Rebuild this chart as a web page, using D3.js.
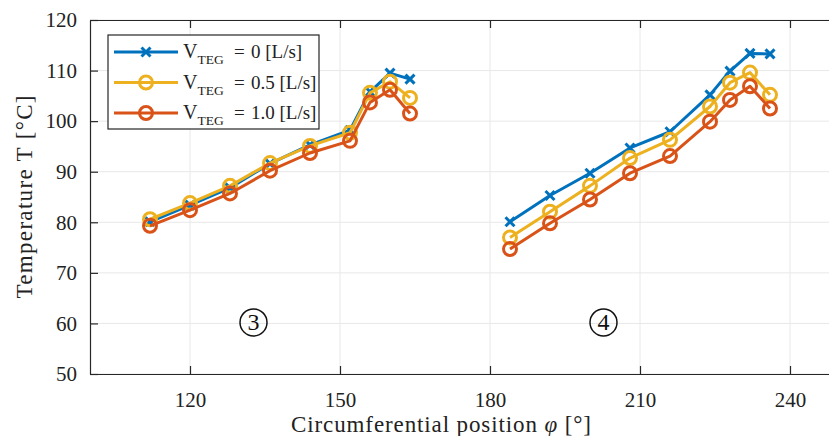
<!DOCTYPE html>
<html>
<head>
<meta charset="utf-8">
<script src="https://cdn.jsdelivr.net/npm/d3@7"></script>
<style>
  body { margin: 0; background: #fff; }
  svg { display: block; font-family: "Liberation Serif", "DejaVu Serif", serif; }
</style>
</head>
<body>
<svg id="chart" width="829" height="436"></svg>
<script>
// circumferential positions, two sensor groups
const phiGroup3 = [112, 120, 128, 136, 144, 152, 156, 160, 164];
const phiGroup4 = [184, 192, 200, 208, 216, 224, 228, 232, 236];

// temperatures for each flow rate (group 3 then group 4)
const temp00 = [80.1, 83.4, 86.8, 91.6, 95.3, 98.2, 105.8, 109.5, 108.3,
                80.1, 85.3, 89.7, 94.7, 97.9, 105.2, 109.9, 113.4, 113.3];
const temp05 = [80.6, 83.8, 87.2, 91.7, 95.1, 97.7, 105.6, 107.8, 104.6,
                77.0, 82.1, 87.2, 92.7, 96.3, 102.9, 107.6, 109.6, 105.2];
const temp10 = [79.3, 82.4, 85.7, 90.2, 93.7, 96.1, 103.7, 106.2, 101.5,
                74.7, 79.8, 84.5, 89.7, 93.1, 99.9, 104.2, 106.9, 102.5];

const xTicks = [120, 150, 180, 210, 240];
const yTicks = [50, 60, 70, 80, 90, 100, 110, 120];
const flowLabels = ["0", "0.5", "1.0"];
const groupLabels = ["3", "4"];
const groupLabelPos = [[132.5, 60], [202.5, 60]];

const colors = ["#0072BD", "#EDB120", "#D95319"];
const markers = ["cross", "circle", "circle"];

const svg = d3.select("#chart");
const mLeft = 90, mRight = 830, mTop = 20, mBottom = 374;

const x = d3.scaleLinear().domain([100, 248]).range([mLeft, mRight]);
const y = d3.scaleLinear().domain([50, 120]).range([mBottom, mTop]);

// grid
const grid = svg.append("g").attr("stroke", "#e8e8e8").attr("stroke-width", 1);
xTicks.forEach(t => {
  grid.append("line").attr("x1", x(t)).attr("x2", x(t)).attr("y1", mTop).attr("y2", mBottom);
});
yTicks.forEach(t => {
  grid.append("line").attr("x1", mLeft).attr("x2", mRight).attr("y1", y(t)).attr("y2", y(t));
});

// axes
const axisColor = "#262626";
const xAxis = svg.append("g").attr("transform", `translate(0,${mBottom})`)
  .call(d3.axisBottom(x).tickValues(xTicks).tickSizeInner(-8).tickSizeOuter(0).tickPadding(18));
const xTop = svg.append("g").attr("transform", `translate(0,${mTop})`)
  .call(d3.axisTop(x).tickValues(xTicks).tickSizeInner(-8).tickSizeOuter(0).tickFormat(""));
const yAxis = svg.append("g").attr("transform", `translate(${mLeft},0)`)
  .call(d3.axisLeft(y).tickValues(yTicks).tickSizeInner(-8).tickSizeOuter(0).tickPadding(13));

[xAxis, xTop, yAxis].forEach(a => {
  a.select(".domain").attr("stroke", axisColor).attr("stroke-width", 1.2);
  a.selectAll(".tick line").attr("stroke", axisColor).attr("stroke-width", 1.2);
  a.selectAll("text").attr("fill", "#222").style("font-size", "21px")
    .style("font-family", "'Liberation Serif', serif");
});

// axis labels
const xl = svg.append("text").attr("x", 441).attr("y", 432).attr("text-anchor", "middle")
  .style("font-size", "23px").attr("fill", "#222")
  .attr("textLength", 300).attr("lengthAdjust", "spacing");
xl.append("tspan").text("Circumferential position ");
xl.append("tspan").style("font-style", "italic").text("\u03C6");
xl.append("tspan").text(" [\u00B0]");

svg.append("text")
  .attr("transform", "translate(32,197) rotate(-90)")
  .attr("text-anchor", "middle").style("font-size", "23px").attr("fill", "#222")
  .attr("textLength", 203).attr("lengthAdjust", "spacing")
  .text("Temperature T [\u00B0C]");

// data series
const series = [temp00, temp05, temp10];
const nG = phiGroup3.length;
const line = d3.line().x(d => x(d[0])).y(d => y(d[1]));

function drawMarker(g, cx, cy, type, color) {
  if (type === "cross") {
    const s = 4.5;
    g.append("path")
      .attr("d", `M${cx - s},${cy - s}L${cx + s},${cy + s}M${cx - s},${cy + s}L${cx + s},${cy - s}`)
      .attr("stroke", color).attr("stroke-width", 3).attr("fill", "none");
  } else {
    g.append("circle").attr("cx", cx).attr("cy", cy).attr("r", 6.5)
      .attr("fill", "none").attr("stroke", color).attr("stroke-width", 3);
  }
}

const plot = svg.append("g");
series.forEach((vals, si) => {
  const groups = [
    phiGroup3.map((p, i) => [p, vals[i]]),
    phiGroup4.map((p, i) => [p, vals[nG + i]])
  ];
  const g = plot.append("g");
  groups.forEach(pts => {
    g.append("path").datum(pts).attr("d", line)
      .attr("fill", "none").attr("stroke", colors[si]).attr("stroke-width", 3)
      .attr("stroke-linejoin", "round");
    pts.forEach(p => drawMarker(g, x(p[0]), y(p[1]), markers[si], colors[si]));
  });
});

// group labels (circled numbers)
groupLabels.forEach((lab, i) => {
  const cx = x(groupLabelPos[i][0]) + 1, cy = y(groupLabelPos[i][1]) - 1;
  svg.append("circle").attr("cx", cx).attr("cy", cy).attr("r", 13.5)
    .attr("fill", "none").attr("stroke", "#111").attr("stroke-width", 1.5);
  svg.append("text").attr("x", cx).attr("y", cy + 8).attr("text-anchor", "middle")
    .style("font-size", "24px").attr("fill", "#111").text(lab);
});

// legend
const lg = svg.append("g");
lg.append("rect").attr("x", 108).attr("y", 35).attr("width", 211).attr("height", 94)
  .attr("fill", "#fff").attr("stroke", "#262626").attr("stroke-width", 1.2);
flowLabels.forEach((f, i) => {
  const ly = 52 + i * 30.5;
  lg.append("line").attr("x1", 114).attr("x2", 178).attr("y1", ly).attr("y2", ly)
    .attr("stroke", colors[i]).attr("stroke-width", 3);
  drawMarker(lg, 146, ly, markers[i], colors[i]);
  const t = lg.append("text").attr("x", 183).attr("y", ly + 6).attr("fill", "#222")
    .style("font-size", "20px");
  t.append("tspan").text("V");
  t.append("tspan").attr("dy", 6).style("font-size", "13.5px").text("TEG");
  t.append("tspan").attr("x", 234).attr("dy", -6).style("font-size", "19px").text("=");
  t.append("tspan").attr("x", 251).style("font-size", "19px").text(f + " [L/s]");
});
</script>
</body>
</html>
